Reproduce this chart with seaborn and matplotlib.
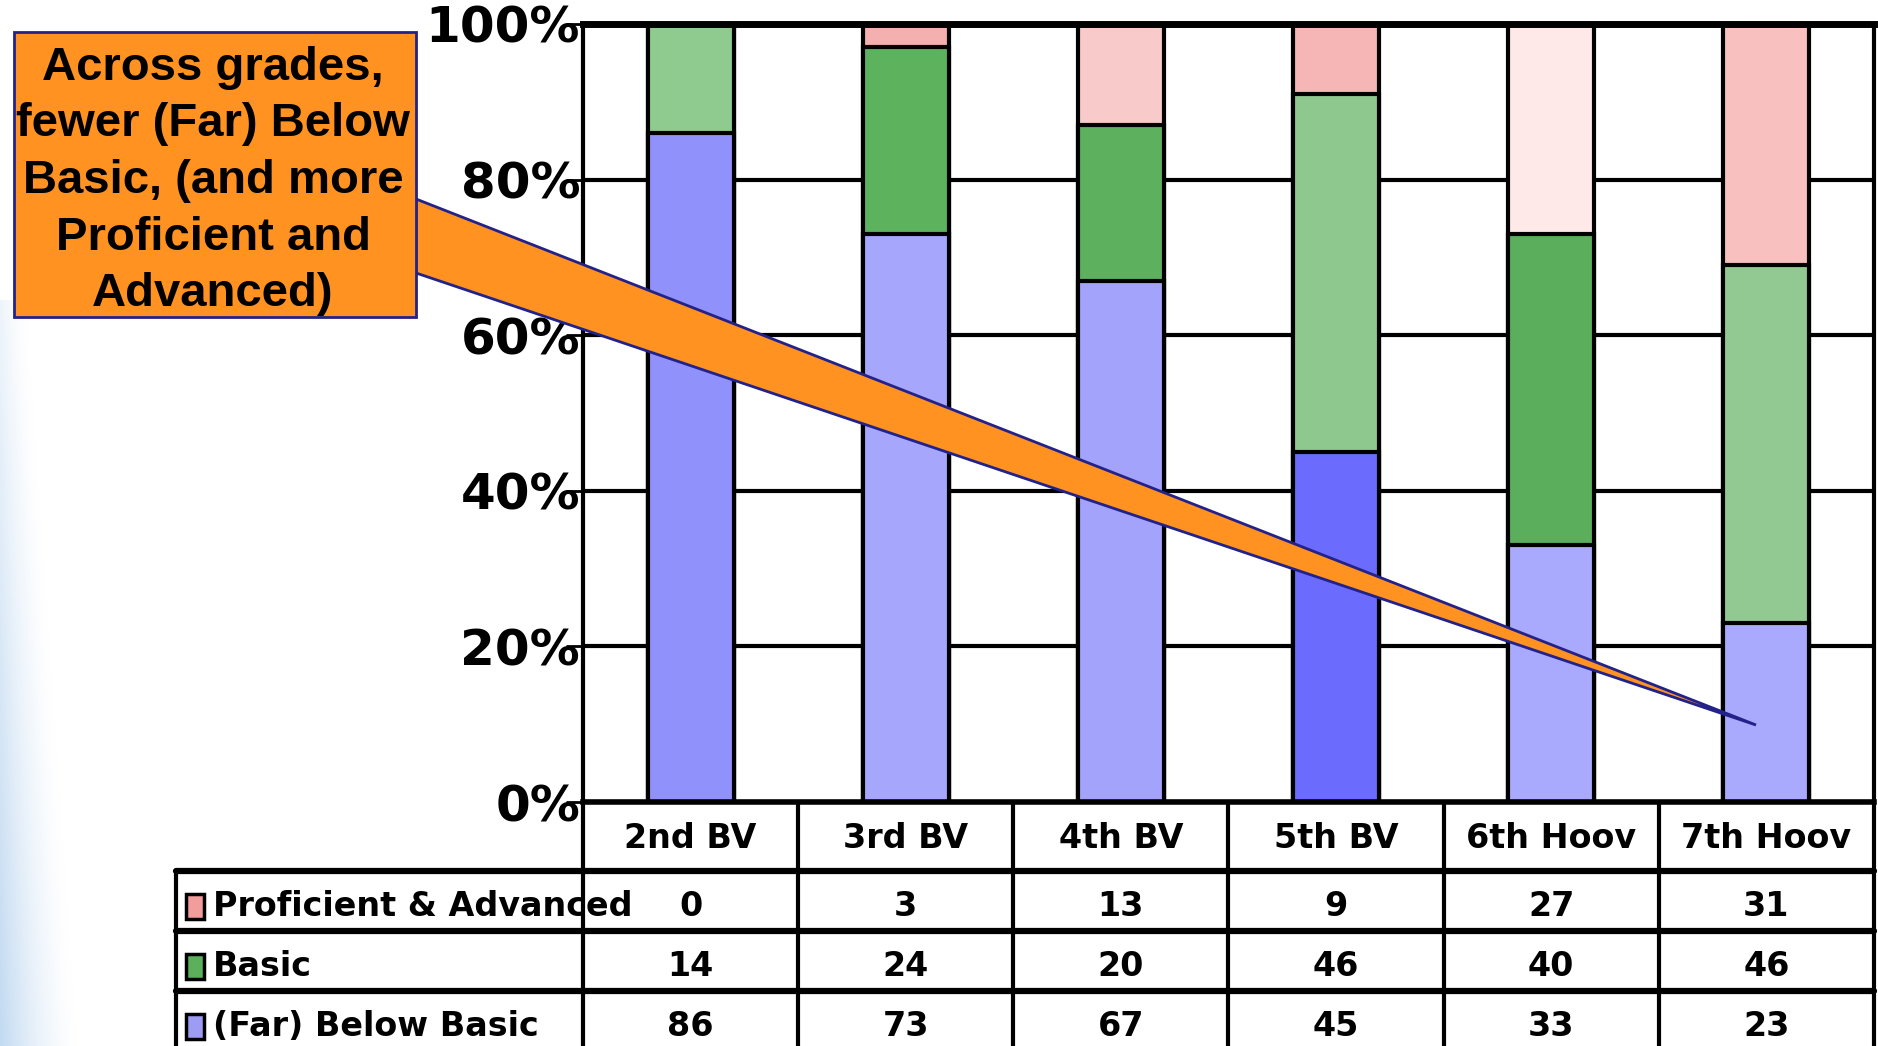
import numpy as np
import pandas as pd
import matplotlib
matplotlib.use('Agg')
import matplotlib.pyplot as plt
import matplotlib.transforms as mtransforms
from matplotlib.patches import Rectangle, Polygon
import seaborn as sns

## data
grades = ['2nd BV', '3rd BV', '4th BV', '5th BV', '6th Hoov', '7th Hoov']
proficient = [0, 3, 13, 9, 27, 31]
basic = [14, 24, 20, 46, 40, 46]
below = [86, 73, 67, 45, 33, 23]
series_names = ['Proficient & Advanced', 'Basic', '(Far) Below Basic']
y_ticks = [0, 20, 40, 60, 80, 100]
y_labels = ['0%', '20%', '40%', '60%', '80%', '100%']
callout = 'Across grades,\nfewer (Far) Below\nBasic, (and more\nProficient and\nAdvanced)'

## per-bar fills (the original uses slightly different pattern fills per bar)
prof_colors = ['#F4AFAF', '#F4AFAF', '#F9CACA', '#F6B6B6', '#FFE8E8', '#F9C0C0']
basic_colors = ['#8FCB8F', '#5DB25D', '#5DB05D', '#8FC88F', '#5BAE5B', '#92C992']
below_colors = ['#9191FB', '#A6A6FD', '#A3A3FC', '#6B6BFD', '#A9A9FD', '#A9A9FD']
key_colors = ['#F29C9C', '#5CB05C', '#9C9CF4']

sns.set_theme(style='white')
plt.rcParams['font.family'] = ['DejaVu Sans']

W, H = 1878, 1046
fig = plt.figure(figsize=(W / 100, H / 100), dpi=100)
fig.patch.set_facecolor('white')

# plot area in pixels: left 583, right 1874, top 24, bottom 802
ax = fig.add_axes([583 / W, 1 - 802 / H, (1874 - 583) / W, (802 - 24) / H])

df = pd.DataFrame({'grade': grades, 'prof': proficient, 'basic': basic, 'below': below})
df['top'] = df['prof'] + df['basic'] + df['below']
df['mid'] = df['basic'] + df['below']

## stacked bars drawn as overlapping cumulative layers
for col, colors in [('top', prof_colors), ('mid', basic_colors), ('below', below_colors)]:
    sns.barplot(data=df, x='grade', y=col, hue='grade',
                palette=dict(zip(grades, colors)), legend=False,
                width=0.4, saturation=1, errorbar=None,
                edgecolor='black', linewidth=3, ax=ax)

ax.set_xlim(-0.5, 5.5)
ax.set_ylim(0, 100)
ax.set_xticks([])
ax.set_xlabel('')
ax.set_ylabel('')
ax.set_yticks(y_ticks)
ax.set_yticklabels(y_labels, fontsize=36, fontweight='bold')
ax.yaxis.grid(True, color='black', linewidth=3)
ax.set_axisbelow(True)
ax.tick_params(axis='y', left=True, direction='out', length=12, width=2,
               pad=-10, colors='black')
for side, lw in [('top', 5), ('left', 3), ('right', 3), ('bottom', 4)]:
    ax.spines[side].set_visible(True)
    ax.spines[side].set_color('black')
    ax.spines[side].set_linewidth(lw)

## overlay in pixel coordinates for the data table and the callout
ov = fig.add_axes([0, 0, 1, 1], zorder=5)
ov.set_facecolor('none')
tr = mtransforms.blended_transform_factory(ax.transData, ov.transData)

# faint slide background at the left edge (blue, fading right and upward)
gx = np.linspace(0, 1, 80)[None, :]
gy = np.linspace(0, 1, 200)[:, None]
alpha = np.clip(1 - gx / (0.35 + 0.65 * gy), 0, 1) ** 1.6 * (0.25 + 0.6 * gy)
bg = np.zeros((200, 80, 4))
bg[..., 0], bg[..., 1], bg[..., 2] = 0.72, 0.83, 0.94
bg[..., 3] = alpha
ov.imshow(bg, extent=[0, 80, 300, 1046], origin='lower', aspect='auto', zorder=0)

ov.set_xlim(0, W)
ov.set_ylim(H, 0)
ov.axis('off')

## table grid
row_edges = [871, 931, 991, 1051]
for i in range(len(grades) + 1):
    ov.plot([i - 0.5, i - 0.5], [802, H], transform=tr, color='black', lw=3)
for y in row_edges[:-1]:
    ov.plot([176, 1874], [y, y], color='black', lw=4.5)
ov.plot([176, 176], [871, H], color='black', lw=3)

for i, g in enumerate(grades):
    ov.text(i, 838, g, transform=tr, ha='center', va='center',
            fontsize=24, fontweight='bold', color='black')

for r, (name, vals, kc) in enumerate(zip(series_names, [proficient, basic, below], key_colors)):
    yc = (row_edges[r] + row_edges[r + 1]) / 2 + 6
    ov.add_patch(Rectangle((186, yc - 13), 18, 25, facecolor=kc,
                           edgecolor='black', lw=2.5, zorder=3))
    ov.text(213, yc, name, ha='left', va='center', fontsize=24,
            fontweight='bold', color='black', zorder=3)
    for i, v in enumerate(vals):
        ov.text(i, yc, str(v), transform=tr, ha='center', va='center',
                fontsize=24, fontweight='bold', color='black')

## callout wedge and box
orange = '#FF9220'
navy = '#22228A'
ov.add_patch(Polygon([(416, 199), (416, 273), (1756, 725)], closed=True,
                     facecolor=orange, edgecolor=navy, lw=2, zorder=3))
ov.add_patch(Rectangle((14, 32), 402, 285, facecolor=orange, edgecolor=navy,
                       lw=2, zorder=4))
ov.text(213, 181, callout, ha='center', va='center', fontsize=34,
        fontweight='bold', family=['Liberation Sans', 'DejaVu Sans'],
        linespacing=1.37, color='black', zorder=5)

fig.savefig('out.png', dpi=100)
